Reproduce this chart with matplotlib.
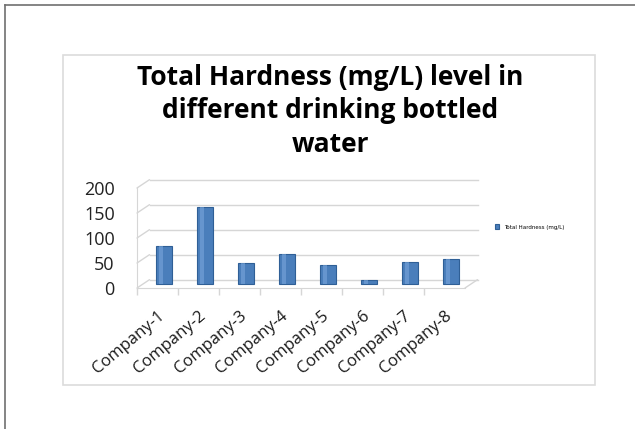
import matplotlib.pyplot as plt
import matplotlib.transforms as mtransforms
from matplotlib.patches import Rectangle, ConnectionPatch
from matplotlib.lines import Line2D

# data
companies = ['Company-1', 'Company-2', 'Company-3', 'Company-4',
             'Company-5', 'Company-6', 'Company-7', 'Company-8']
hardness = [75, 153, 42, 59, 38, 8, 43, 49]
y_ticks = [0, 50, 100, 150, 200]

fig = plt.figure(figsize=(6.35, 4.29), dpi=100)
W, H = 635, 429
GRID = '#d6d6d6'

# outer page frame (top and left only)
fig.add_artist(Line2D([5 / W, 1], [1 - 5 / H, 1 - 5 / H], color='#707070', lw=1.2))
fig.add_artist(Line2D([5 / W, 5 / W], [0, 1 - 5 / H], color='#707070', lw=1.2))

# chart box
fig.add_artist(Rectangle((63 / W, 1 - 385 / H), (595 - 63) / W, (385 - 55) / H,
                         fill=False, edgecolor='#dcdcdc', lw=1.2))

# front plane of the pseudo-3D plot
ax = fig.add_axes([137 / W, 1 - 288 / H, (465 - 137) / W, (288 - 188) / H])
x = list(range(len(companies)))
ax.set_xlim(-0.5, 7.5)
ax.set_ylim(0, 200)

# depth offsets (in points) for the back wall and the bar row
back = ax.transData + mtransforms.ScaledTranslation(9 / 72, 6 / 72, fig.dpi_scale_trans)
mid = ax.transData + mtransforms.ScaledTranslation(4.5 / 72, 3 / 72, fig.dpi_scale_trans)

x0, x1 = ax.get_xlim()
for y in y_ticks:
    ax.plot([x0, x1], [y, y], color=GRID, lw=1.0, transform=back, clip_on=False, zorder=1)
    ax.add_artist(ConnectionPatch((x0, y), (x0, y), coordsA=ax.transData, coordsB=back,
                                  color=GRID, lw=1.0, clip_on=False, zorder=1))
ax.add_artist(ConnectionPatch((x1, 0), (x1, 0), coordsA=ax.transData, coordsB=back,
                              color=GRID, lw=1.0, clip_on=False, zorder=1))

ax.bar(x, hardness, width=0.4, color='#4a7ebb', edgecolor='#2f5f96', lw=0.8,
       label='Total Hardness (mg/L)', zorder=3, transform=mid)
# light stripe to hint at the cylinder shading
ax.bar([i - 0.06 for i in x], hardness, width=0.1, color='#7aa6dc', lw=0,
       alpha=0.6, zorder=4, transform=mid)

for s in ['top', 'right']:
    ax.spines[s].set_visible(False)
ax.spines['left'].set_color(GRID)
ax.spines['bottom'].set_color(GRID)

ax.set_yticks(y_ticks)
ax.set_yticklabels([str(v) for v in y_ticks], fontsize=13, family='Open Sans',
                   color='#222222')
ax.set_xticks(x)
ax.set_xticklabels(companies, rotation=40, ha='right', rotation_mode='anchor',
                   fontsize=12, family='Open Sans', color='#1a1a1a')
ax.set_xticks([i + 0.5 for i in x][:-1] + [x0], minor=True)
ax.yaxis.set_tick_params(length=0, pad=16)
ax.xaxis.set_tick_params(which='major', length=0, pad=14)
ax.xaxis.set_tick_params(which='minor', length=5, color=GRID, width=1.0)

fig.text(330 / W, 1 - 111 / H,
         'Total Hardness (mg/L) level in\ndifferent drinking bottled\nwater',
         ha='center', va='center', fontsize=19, fontweight='bold',
         family='Open Sans', linespacing=1.3, color='#000000')

ax.legend(loc='center left', bbox_to_anchor=(490 / W, 1 - 227 / H),
          bbox_transform=fig.transFigure, frameon=False, fontsize=4,
          handlelength=0.8, handleheight=0.8)

fig.savefig('out.png', dpi=100)
